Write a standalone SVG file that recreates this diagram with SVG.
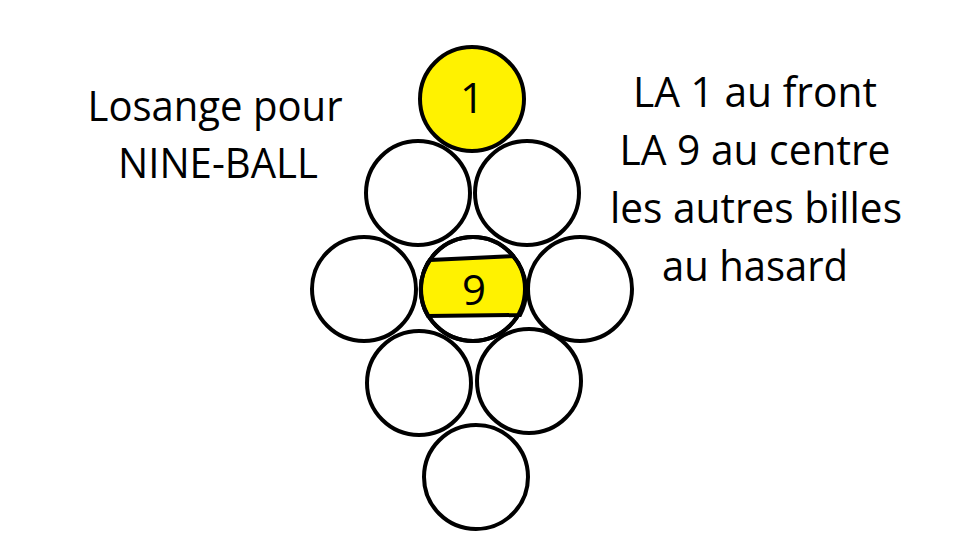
<svg xmlns="http://www.w3.org/2000/svg" width="960" height="540" viewBox="0 0 960 540">
<style>
.ball{fill:#ffffff;stroke:#000000;stroke-width:4}
.yel{fill:#FFF200;stroke:#000000;stroke-width:4}
.t{font-family:"Open Sans","Noto Sans","Liberation Sans",sans-serif;font-size:42px;fill:#000000;text-anchor:middle}
</style>
<rect width="960" height="540" fill="#ffffff"/>
<g id="label-left">
<text class="t" x="215" y="121" textLength="255" lengthAdjust="spacingAndGlyphs">Losange pour</text>
<text class="t" x="218" y="178" textLength="200" lengthAdjust="spacingAndGlyphs">NINE-BALL</text>
</g>
<g id="label-right">
<text class="t" x="755" y="107" textLength="244" lengthAdjust="spacingAndGlyphs">LA 1 au front</text>
<text class="t" x="755" y="165" textLength="271" lengthAdjust="spacingAndGlyphs">LA 9 au centre</text>
<text class="t" x="756" y="223" textLength="292" lengthAdjust="spacingAndGlyphs">les autres billes</text>
<text class="t" x="755" y="281" textLength="186" lengthAdjust="spacingAndGlyphs">au hasard</text>
</g>
<g id="ball-r2-left"><circle class="ball" cx="418" cy="193" r="52"/></g>
<g id="ball-r2-right"><circle class="ball" cx="527" cy="193" r="52"/></g>
<g id="ball-1"><circle class="yel" cx="472" cy="99" r="52"/><text class="t" x="472" y="113">1</text></g>
<g id="ball-r4-left"><circle class="ball" cx="419" cy="383" r="52"/></g>
<g id="ball-r4-right"><circle class="ball" cx="529" cy="381" r="52"/></g>
<g id="ball-r5"><circle class="ball" cx="476" cy="477" r="52"/></g>
<g id="ball-r3-left"><circle class="ball" cx="364" cy="289" r="52"/></g>
<g id="ball-r3-right"><circle class="ball" cx="580" cy="289" r="52"/></g>
<g id="ball-9">
<circle class="ball" cx="473" cy="289" r="52"/>
<path class="yel" d="M430,260 L513,256 A52 52 0 0 1 520,315 L428,316 A52 52 0 0 1 430,260 Z"/>
<circle cx="473" cy="289" r="52" fill="none" stroke="#000" stroke-width="4"/>
<text class="t" x="474" y="305">9</text>
</g>
</svg>
